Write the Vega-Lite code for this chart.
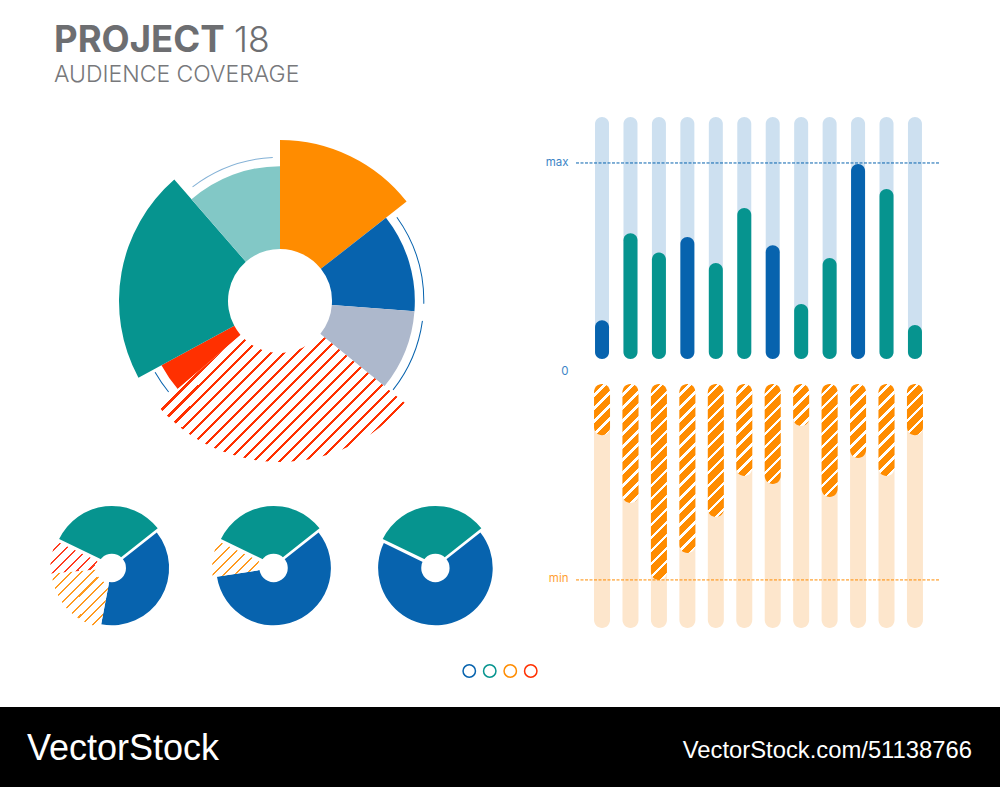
{
"$schema":"https://vega.github.io/schema/vega-lite/v6.json",
"padding":0,"autosize":{"type":"pad"},"background":"#ffffff",
"config":{"view":{"stroke":null},"font":"Inter"},
"params":[
{"name":"bigStops","value":[{"offset":0.2,"color":"#fff"},{"offset":0.2,"color":"#ff3000"},{"offset":0.21,"color":"#ff3000"},{"offset":0.21,"color":"#fff"},{"offset":0.24,"color":"#fff"},{"offset":0.24,"color":"#ff3000"},{"offset":0.25,"color":"#ff3000"},{"offset":0.25,"color":"#fff"},{"offset":0.28,"color":"#fff"},{"offset":0.28,"color":"#ff3000"},{"offset":0.29,"color":"#ff3000"},{"offset":0.29,"color":"#fff"},{"offset":0.32,"color":"#fff"},{"offset":0.32,"color":"#ff3000"},{"offset":0.33,"color":"#ff3000"},{"offset":0.33,"color":"#fff"},{"offset":0.36,"color":"#fff"},{"offset":0.36,"color":"#ff3000"},{"offset":0.37,"color":"#ff3000"},{"offset":0.37,"color":"#fff"},{"offset":0.4,"color":"#fff"},{"offset":0.4,"color":"#ff3000"},{"offset":0.41,"color":"#ff3000"},{"offset":0.41,"color":"#fff"},{"offset":0.44,"color":"#fff"},{"offset":0.44,"color":"#ff3000"},{"offset":0.45,"color":"#ff3000"},{"offset":0.45,"color":"#fff"},{"offset":0.48,"color":"#fff"},{"offset":0.48,"color":"#ff3000"},{"offset":0.49,"color":"#ff3000"},{"offset":0.49,"color":"#fff"},{"offset":0.52,"color":"#fff"},{"offset":0.52,"color":"#ff3000"},{"offset":0.53,"color":"#ff3000"},{"offset":0.53,"color":"#fff"},{"offset":0.56,"color":"#fff"},{"offset":0.56,"color":"#ff3000"},{"offset":0.57,"color":"#ff3000"},{"offset":0.57,"color":"#fff"},{"offset":0.6,"color":"#fff"},{"offset":0.6,"color":"#ff3000"},{"offset":0.61,"color":"#ff3000"},{"offset":0.61,"color":"#fff"},{"offset":0.64,"color":"#fff"},{"offset":0.64,"color":"#ff3000"},{"offset":0.65,"color":"#ff3000"},{"offset":0.65,"color":"#fff"},{"offset":0.68,"color":"#fff"},{"offset":0.68,"color":"#ff3000"},{"offset":0.69,"color":"#ff3000"},{"offset":0.69,"color":"#fff"},{"offset":0.72,"color":"#fff"},{"offset":0.72,"color":"#ff3000"},{"offset":0.73,"color":"#ff3000"},{"offset":0.73,"color":"#fff"},{"offset":0.76,"color":"#fff"},{"offset":0.76,"color":"#ff3000"},{"offset":0.77,"color":"#ff3000"},{"offset":0.77,"color":"#fff"},{"offset":0.8,"color":"#fff"},{"offset":0.8,"color":"#ff3000"},{"offset":0.81,"color":"#ff3000"},{"offset":0.81,"color":"#fff"},{"offset":0.84,"color":"#fff"},{"offset":0.84,"color":"#ff3000"},{"offset":0.85,"color":"#ff3000"},{"offset":0.85,"color":"#fff"},{"offset":0.88,"color":"#fff"},{"offset":0.88,"color":"#ff3000"},{"offset":0.89,"color":"#ff3000"},{"offset":0.89,"color":"#fff"},{"offset":0.92,"color":"#fff"},{"offset":0.92,"color":"#ff3000"},{"offset":0.93,"color":"#ff3000"},{"offset":0.93,"color":"#fff"},{"offset":0.96,"color":"#fff"},{"offset":0.96,"color":"#ff3000"},{"offset":0.97,"color":"#ff3000"},{"offset":0.97,"color":"#fff"}]},
{"name":"barStops","value":[{"offset":0,"color":"#ff8c00"},{"offset":0.0455,"color":"#ff8c00"},{"offset":0.0455,"color":"#fff"},{"offset":0.0625,"color":"#fff"},{"offset":0.0625,"color":"#ff8c00"},{"offset":0.108,"color":"#ff8c00"},{"offset":0.108,"color":"#fff"},{"offset":0.125,"color":"#fff"},{"offset":0.125,"color":"#ff8c00"},{"offset":0.1705,"color":"#ff8c00"},{"offset":0.1705,"color":"#fff"},{"offset":0.1875,"color":"#fff"},{"offset":0.1875,"color":"#ff8c00"},{"offset":0.233,"color":"#ff8c00"},{"offset":0.233,"color":"#fff"},{"offset":0.25,"color":"#fff"},{"offset":0.25,"color":"#ff8c00"},{"offset":0.2955,"color":"#ff8c00"},{"offset":0.2955,"color":"#fff"},{"offset":0.3125,"color":"#fff"},{"offset":0.3125,"color":"#ff8c00"},{"offset":0.358,"color":"#ff8c00"},{"offset":0.358,"color":"#fff"},{"offset":0.375,"color":"#fff"},{"offset":0.375,"color":"#ff8c00"},{"offset":0.4205,"color":"#ff8c00"},{"offset":0.4205,"color":"#fff"},{"offset":0.4375,"color":"#fff"},{"offset":0.4375,"color":"#ff8c00"},{"offset":0.483,"color":"#ff8c00"},{"offset":0.483,"color":"#fff"},{"offset":0.5,"color":"#fff"},{"offset":0.5,"color":"#ff8c00"},{"offset":0.5455,"color":"#ff8c00"},{"offset":0.5455,"color":"#fff"},{"offset":0.5625,"color":"#fff"},{"offset":0.5625,"color":"#ff8c00"},{"offset":0.608,"color":"#ff8c00"},{"offset":0.608,"color":"#fff"},{"offset":0.625,"color":"#fff"},{"offset":0.625,"color":"#ff8c00"},{"offset":0.6705,"color":"#ff8c00"},{"offset":0.6705,"color":"#fff"},{"offset":0.6875,"color":"#fff"},{"offset":0.6875,"color":"#ff8c00"},{"offset":0.733,"color":"#ff8c00"},{"offset":0.733,"color":"#fff"},{"offset":0.75,"color":"#fff"},{"offset":0.75,"color":"#ff8c00"},{"offset":0.7955,"color":"#ff8c00"},{"offset":0.7955,"color":"#fff"},{"offset":0.8125,"color":"#fff"},{"offset":0.8125,"color":"#ff8c00"},{"offset":0.858,"color":"#ff8c00"},{"offset":0.858,"color":"#fff"},{"offset":0.875,"color":"#fff"},{"offset":0.875,"color":"#ff8c00"},{"offset":0.9205,"color":"#ff8c00"},{"offset":0.9205,"color":"#fff"},{"offset":0.9375,"color":"#fff"},{"offset":0.9375,"color":"#ff8c00"},{"offset":0.983,"color":"#ff8c00"},{"offset":0.983,"color":"#fff"},{"offset":1,"color":"#fff"}]},
{"name":"thinOrange","value":[{"offset":0,"color":"#ff9a1f"},{"offset":0.02,"color":"#ff9a1f"},{"offset":0.02,"color":"#fff"},{"offset":0.1,"color":"#fff"},{"offset":0.1,"color":"#ff9a1f"},{"offset":0.12,"color":"#ff9a1f"},{"offset":0.12,"color":"#fff"},{"offset":0.2,"color":"#fff"},{"offset":0.2,"color":"#ff9a1f"},{"offset":0.22,"color":"#ff9a1f"},{"offset":0.22,"color":"#fff"},{"offset":0.3,"color":"#fff"},{"offset":0.3,"color":"#ff9a1f"},{"offset":0.32,"color":"#ff9a1f"},{"offset":0.32,"color":"#fff"},{"offset":0.4,"color":"#fff"},{"offset":0.4,"color":"#ff9a1f"},{"offset":0.42,"color":"#ff9a1f"},{"offset":0.42,"color":"#fff"},{"offset":0.5,"color":"#fff"},{"offset":0.5,"color":"#ff9a1f"},{"offset":0.52,"color":"#ff9a1f"},{"offset":0.52,"color":"#fff"},{"offset":0.6,"color":"#fff"},{"offset":0.6,"color":"#ff9a1f"},{"offset":0.62,"color":"#ff9a1f"},{"offset":0.62,"color":"#fff"},{"offset":0.7,"color":"#fff"},{"offset":0.7,"color":"#ff9a1f"},{"offset":0.72,"color":"#ff9a1f"},{"offset":0.72,"color":"#fff"},{"offset":0.8,"color":"#fff"},{"offset":0.8,"color":"#ff9a1f"},{"offset":0.82,"color":"#ff9a1f"},{"offset":0.82,"color":"#fff"},{"offset":0.9,"color":"#fff"},{"offset":0.9,"color":"#ff9a1f"},{"offset":0.92,"color":"#ff9a1f"},{"offset":0.92,"color":"#fff"},{"offset":1,"color":"#fff"}]},
{"name":"thinRed","value":[{"offset":0,"color":"#ff3b1f"},{"offset":0.02,"color":"#ff3b1f"},{"offset":0.02,"color":"#fff"},{"offset":0.1,"color":"#fff"},{"offset":0.1,"color":"#ff3b1f"},{"offset":0.12,"color":"#ff3b1f"},{"offset":0.12,"color":"#fff"},{"offset":0.2,"color":"#fff"},{"offset":0.2,"color":"#ff3b1f"},{"offset":0.22,"color":"#ff3b1f"},{"offset":0.22,"color":"#fff"},{"offset":0.3,"color":"#fff"},{"offset":0.3,"color":"#ff3b1f"},{"offset":0.32,"color":"#ff3b1f"},{"offset":0.32,"color":"#fff"},{"offset":0.4,"color":"#fff"},{"offset":0.4,"color":"#ff3b1f"},{"offset":0.42,"color":"#ff3b1f"},{"offset":0.42,"color":"#fff"},{"offset":0.5,"color":"#fff"},{"offset":0.5,"color":"#ff3b1f"},{"offset":0.52,"color":"#ff3b1f"},{"offset":0.52,"color":"#fff"},{"offset":0.6,"color":"#fff"},{"offset":0.6,"color":"#ff3b1f"},{"offset":0.62,"color":"#ff3b1f"},{"offset":0.62,"color":"#fff"},{"offset":0.7,"color":"#fff"},{"offset":0.7,"color":"#ff3b1f"},{"offset":0.72,"color":"#ff3b1f"},{"offset":0.72,"color":"#fff"},{"offset":0.8,"color":"#fff"}]}
],
"datasets":{
"big":[{"segment":"Orange","order":1,"share":14.4,"level":100},{"segment":"Blue","order":2,"share":11.8,"level":76},{"segment":"Slate","order":3,"share":9.7,"level":76},{"segment":"Hatched","order":4,"share":27.8,"level":100},{"segment":"Red","order":5,"share":3.4,"level":76},{"segment":"Teal","order":6,"share":21.5,"level":100},{"segment":"Light teal","order":7,"share":11.4,"level":76}],
"guides":[{"start":15.1,"end":25.3},{"start":27.2,"end":35.6},{"start":64.1,"end":66.75},{"start":89.6,"end":99.2}],
"bars":[{"bar":1,"series":"Blue","reach":16,"cut":21},{"bar":2,"series":"Teal","reach":52,"cut":48.8},{"bar":3,"series":"Teal","reach":44,"cut":80.3},{"bar":4,"series":"Blue","reach":50.4,"cut":69.3},{"bar":5,"series":"Teal","reach":39.7,"cut":54.5},{"bar":6,"series":"Teal","reach":62.4,"cut":37.7},{"bar":7,"series":"Blue","reach":47,"cut":41},{"bar":8,"series":"Teal","reach":22.7,"cut":17.2},{"bar":9,"series":"Teal","reach":41.7,"cut":46.3},{"bar":10,"series":"Blue","reach":80.6,"cut":30.3},{"bar":11,"series":"Teal","reach":70.2,"cut":37.7},{"bar":12,"series":"Teal","reach":14,"cut":21}],
"pie1":[{"slice":"Teal","order":1,"share":32.2},{"slice":"Blue","order":2,"share":38.6},{"slice":"Orange","order":3,"share":20.6},{"slice":"Red","order":4,"share":8.6}],
"pie2":[{"slice":"Teal","order":1,"share":32.2},{"slice":"Blue","order":2,"share":58.2},{"slice":"Orange","order":3,"share":9.6}],
"pie3":[{"slice":"Teal","order":1,"share":32.2},{"slice":"Blue","order":2,"share":67.8}],
"legend":[{"series":"Blue"},{"series":"Teal"},{"series":"Orange"},{"series":"Red"}]
},
"spacing":0,
"vconcat":[
{"spacing":0,"hconcat":[
 {"spacing":0,"vconcat":[
  {"width":545,"height":106,"data":{"values":[{"a":"PROJECT","b":"18","c":"AUDIENCE COVERAGE"}]},"layer":[
   {"mark":{"type":"text","x":54,"y":51.5,"align":"left","baseline":"alphabetic","fontSize":36.5,"fontWeight":700,"font":"Inter","color":"#6d6e71"},"encoding":{"text":{"field":"a"}}},
   {"mark":{"type":"text","x":234,"y":51.5,"align":"left","baseline":"alphabetic","fontSize":35.5,"fontWeight":300,"font":"Inter","color":"#6d6e71"},"encoding":{"text":{"field":"b"}}},
   {"mark":{"type":"text","x":54,"y":82,"align":"left","baseline":"alphabetic","fontSize":23,"fontWeight":300,"font":"Inter","color":"#77787b"},"encoding":{"text":{"field":"c"}}}
  ]},
  {"width":545,"height":390,"layer":[
   {"data":{"name":"big"},"transform":[{"stack":"share","groupby":[],"sort":[{"field":"order","order":"ascending"}],"as":["start","end"]},{"filter":"datum.segment!='Hatched'"}],
    "mark":{"type":"arc","radius2":52,"xOffset":7.5},
    "encoding":{"theta":{"field":"start","type":"quantitative","scale":{"domain":[0,100],"range":[0,6.28319]}},"theta2":{"field":"end"},"radius":{"field":"level","type":"quantitative","scale":{"domain":[0,100],"range":[52,161]}},"fill":{"field":"segment","type":"nominal","legend":null,"scale":{"domain":["Orange","Blue","Slate","Red","Teal","Light teal"],"range":["#ff8c00","#0763ae","#adb8cc","#ff3000","#06948f","#82c8c6"]}}}},
   {"data":{"name":"big"},"transform":[{"stack":"share","groupby":[],"sort":[{"field":"order","order":"ascending"}],"as":["start","end"]},{"filter":"datum.segment=='Hatched'"}],
    "mark":{"type":"arc","radius2":52,"xOffset":7.5,"fill":{"expr":"{gradient:'linear',x1:0,y1:0,x2:1.04,y2:0.541,stops:bigStops}"}},
    "encoding":{"theta":{"field":"start","type":"quantitative","scale":{"domain":[0,100],"range":[0,6.28319]}},"theta2":{"field":"end"},"radius":{"field":"level","type":"quantitative","scale":{"domain":[0,100],"range":[52,161]}}}},
   {"data":{"name":"guides"},"mark":{"type":"arc","radius":144.3,"radius2":143.3,"xOffset":7.5,"fill":"#0763ae"},
    "encoding":{"theta":{"field":"start","type":"quantitative","scale":{"domain":[0,100],"range":[0,6.28319]}},"theta2":{"field":"end"},"opacity":{"condition":{"test":"datum.start>80","value":0.5},"value":1}}}
  ]},
  {"bounds":"flush","spacing":37.8,"hconcat":[
   {"width":12,"height":144,"data":{"values":[{"v":""}]},"mark":{"type":"text","opacity":0},"encoding":{"text":{"field":"v"}}},
   {"width":124,"height":144,"data":{"name":"pie1"},"transform":[{"stack":"share","groupby":[],"sort":[{"field":"order","order":"ascending"}],"as":["start","end"]}],"layer":[
    {"transform":[{"filter":"datum.slice=='Blue'"}],"mark":{"type":"arc","radius":57.3,"radius2":10,"fill":"#0763ae"},"encoding":{"theta":{"field":"start","type":"quantitative","scale":{"domain":[0,100],"range":[-1.1205,5.1627]}},"theta2":{"field":"end"}}},
    {"transform":[{"filter":"datum.slice=='Orange'"}],"mark":{"type":"arc","radius":60.5,"radius2":16,"fill":{"expr":"{gradient:'linear',x1:0,y1:0,x2:0.909,y2:0.926,stops:thinOrange}"}},"encoding":{"theta":{"field":"start","type":"quantitative","scale":{"domain":[0,100],"range":[-1.1205,5.1627]}},"theta2":{"field":"end"}}},
    {"transform":[{"filter":"datum.slice=='Red'"}],"mark":{"type":"arc","radius":61.5,"radius2":16,"fill":{"expr":"{gradient:'linear',x1:0,y1:0,x2:1.597,y2:1.09,stops:thinRed}"}},"encoding":{"theta":{"field":"start","type":"quantitative","scale":{"domain":[0,100],"range":[-1.1205,5.1627]}},"theta2":{"field":"end"}}},
    {"transform":[{"filter":"datum.slice=='Teal'"}],"mark":{"type":"arc","radius":58.5,"radius2":5,"yOffset":-3.5,"fill":"#06948f"},"encoding":{"theta":{"field":"start","type":"quantitative","scale":{"domain":[0,100],"range":[-1.1205,5.1627]}},"theta2":{"field":"end"}}},
    {"transform":[{"filter":"datum.slice=='Teal'"}],"mark":{"type":"circle","size":804,"fill":"#fff","opacity":1},"encoding":{}}
   ]},
   {"width":124,"height":144,"data":{"name":"pie2"},"transform":[{"stack":"share","groupby":[],"sort":[{"field":"order","order":"ascending"}],"as":["start","end"]}],"layer":[
    {"transform":[{"filter":"datum.slice=='Blue'"}],"mark":{"type":"arc","radius":57.3,"radius2":10,"fill":"#0763ae"},"encoding":{"theta":{"field":"start","type":"quantitative","scale":{"domain":[0,100],"range":[-1.1205,5.1627]}},"theta2":{"field":"end"}}},
    {"transform":[{"filter":"datum.slice=='Orange'"}],"mark":{"type":"arc","radius":61.5,"radius2":16,"fill":{"expr":"{gradient:'linear',x1:0,y1:0,x2:1.476,y2:1.128,stops:thinOrange}"}},"encoding":{"theta":{"field":"start","type":"quantitative","scale":{"domain":[0,100],"range":[-1.1205,5.1627]}},"theta2":{"field":"end"}}},
    {"transform":[{"filter":"datum.slice=='Teal'"}],"mark":{"type":"arc","radius":58.5,"radius2":5,"yOffset":-3.5,"fill":"#06948f"},"encoding":{"theta":{"field":"start","type":"quantitative","scale":{"domain":[0,100],"range":[-1.1205,5.1627]}},"theta2":{"field":"end"}}},
    {"transform":[{"filter":"datum.slice=='Teal'"}],"mark":{"type":"circle","size":804,"fill":"#fff","opacity":1},"encoding":{}}
   ]},
   {"width":124,"height":144,"data":{"name":"pie3"},"transform":[{"stack":"share","groupby":[],"sort":[{"field":"order","order":"ascending"}],"as":["start","end"]}],"layer":[
    {"transform":[{"filter":"datum.slice=='Blue'"}],"mark":{"type":"arc","radius":57.3,"radius2":10,"fill":"#0763ae"},"encoding":{"theta":{"field":"start","type":"quantitative","scale":{"domain":[0,100],"range":[-1.1205,5.1627]}},"theta2":{"field":"end"}}},
    {"transform":[{"filter":"datum.slice=='Teal'"}],"mark":{"type":"arc","radius":58.5,"radius2":5,"yOffset":-3.5,"fill":"#06948f"},"encoding":{"theta":{"field":"start","type":"quantitative","scale":{"domain":[0,100],"range":[-1.1205,5.1627]}},"theta2":{"field":"end"}}},
    {"transform":[{"filter":"datum.slice=='Teal'"}],"mark":{"type":"circle","size":804,"fill":"#fff","opacity":1},"encoding":{}}
   ]}
  ]}
 ]},
 {"bounds":"flush","spacing":25,"vconcat":[
  {"width":363,"height":92,"data":{"values":[{"v":""}]},"mark":{"type":"text","opacity":0},"encoding":{"text":{"field":"v"}}},
  {"width":363,"height":242,"layer":[
   {"data":{"name":"bars"},"mark":{"type":"bar","size":14,"cornerRadius":7,"fill":"#cde0f0"},"encoding":{"x":{"field":"bar","type":"nominal","sort":null,"axis":null,"scale":{"type":"band","paddingInner":0,"paddingOuter":0.38,"align":0.546}},"y":{"datum":100,"type":"quantitative","scale":{"domain":[0,100]},"axis":{"title":null,"values":[0,81],"labelExpr":"datum.value==0?'0':'max'","domain":false,"ticks":false,"grid":false,"labelPadding":8,"labelFont":"Inter","labelFontSize":11.5,"labelColor":"#3d85c6","labelOffset":{"condition":{"test":"datum.value==0","value":12},"value":0}}},"y2":{"datum":0}}},
   {"data":{"name":"bars"},"mark":{"type":"bar","size":14,"cornerRadius":7},"encoding":{"x":{"field":"bar","type":"nominal","sort":null,"axis":null,"scale":{"type":"band","paddingInner":0,"paddingOuter":0.38,"align":0.546}},"y":{"field":"reach","type":"quantitative","stack":null,"scale":{"domain":[0,100]}},"y2":{"datum":0},"fill":{"field":"series","type":"nominal","legend":null,"scale":{"domain":["Blue","Teal"],"range":["#0763ae","#06948f"]}}}},
   {"data":{"values":[{"limit":81}]},"mark":{"type":"rule","color":"#0763ae","strokeWidth":1,"strokeDash":[3,1.5]},"encoding":{"y":{"field":"limit","type":"quantitative","scale":{"domain":[0,100]}}}}
  ]},
  {"width":363,"height":244,"layer":[
   {"data":{"name":"bars"},"mark":{"type":"bar","size":16,"cornerRadius":8,"fill":"#fde6cc"},"encoding":{"x":{"field":"bar","type":"nominal","sort":null,"axis":null,"scale":{"type":"band","paddingInner":0,"paddingOuter":0.38,"align":0.546}},"y":{"datum":100,"type":"quantitative","scale":{"domain":[0,100],"reverse":true},"axis":{"title":null,"values":[80.3],"labelExpr":"'min'","domain":false,"ticks":false,"grid":false,"labelPadding":8,"labelFont":"Inter","labelFontSize":11.5,"labelColor":"#ff9f33","labelOffset":-1}},"y2":{"datum":0}}},
   {"data":{"name":"bars"},"mark":{"type":"bar","size":16,"cornerRadius":8,"fill":{"expr":"{gradient:'linear',x1:0,y1:0,x2:0.0769/(0.00591+pow(datum.cut*0.01173,2)),y2:(datum.cut*0.01173)/(0.00591+pow(datum.cut*0.01173,2)),stops:barStops}"}},"encoding":{"x":{"field":"bar","type":"nominal","sort":null,"axis":null,"scale":{"type":"band","paddingInner":0,"paddingOuter":0.38,"align":0.546}},"y":{"field":"cut","type":"quantitative","stack":null,"scale":{"domain":[0,100],"reverse":true}},"y2":{"datum":0}}},
   {"data":{"values":[{"limit":80.3}]},"mark":{"type":"rule","color":"#ff8c00","strokeWidth":1,"strokeDash":[3,1.5]},"encoding":{"y":{"field":"limit","type":"quantitative","scale":{"domain":[0,100],"reverse":true}}}}
  ]}
 ]}
]},
{"bounds":"flush","spacing":0,"hconcat":[
 {"width":459,"height":67,"data":{"values":[{"v":""}]},"mark":{"type":"text","opacity":0},"encoding":{"text":{"field":"v"}}},
 {"width":82,"height":67,"data":{"name":"legend"},"mark":{"type":"point","shape":"circle","filled":false,"size":154,"strokeWidth":1.5,"yOffset":-2.5,"opacity":1},
 "encoding":{"x":{"field":"series","type":"nominal","sort":null,"axis":null,"scale":{"type":"point","padding":0.5}},"stroke":{"field":"series","type":"nominal","legend":null,"scale":{"domain":["Blue","Teal","Orange","Red"],"range":["#0763ae","#06948f","#ff8c00","#ff3000"]}}}}
]},
{"width":1000,"height":80,"view":{"fill":"#000000","stroke":null},"data":{"values":[{"brand":"VectorStock","url":"VectorStock.com/51138766"}]},"layer":[
 {"mark":{"type":"text","x":27,"y":42,"align":"left","baseline":"middle","font":"Liberation Sans","fontSize":36,"color":"#ffffff"},"encoding":{"text":{"field":"brand"}}},
 {"mark":{"type":"text","x":972,"y":44,"align":"right","baseline":"middle","font":"Liberation Sans","fontSize":23.8,"color":"#ffffff"},"encoding":{"text":{"field":"url"}}}
]}
]
}
